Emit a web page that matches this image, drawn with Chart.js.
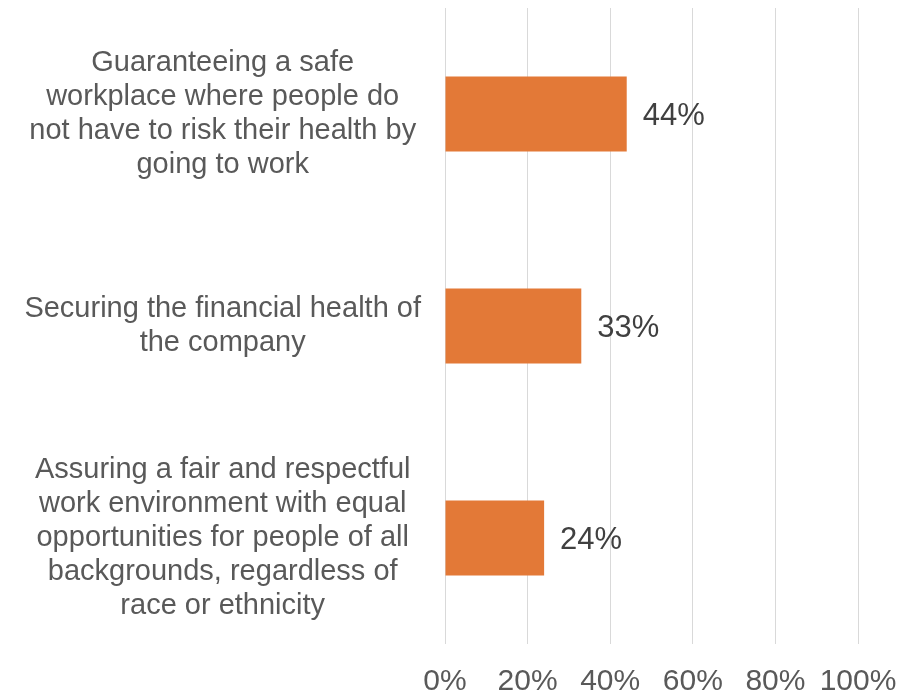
<!DOCTYPE html>
<html>
<head>
<meta charset="utf-8">
<script src="https://cdn.jsdelivr.net/npm/chart.js@4"></script>
<style>
  html, body { margin: 0; padding: 0; background: #fff; }
  #wrap { width: 914px; height: 697px; position: relative; }
</style>
</head>
<body>
<div id="wrap"><canvas id="priorities"></canvas></div>
<script>
// categories, one array of lines per wrapped label
const categories = [
    ['Guaranteeing a safe', 'workplace where people do', 'not have to risk their health by', 'going to work'],
    ['Securing the financial health of', 'the company'],
    ['Assuring a fair and respectful', 'work environment with equal', 'opportunities for people of all', 'backgrounds, regardless of', 'race or ethnicity']
];
const shares = [44, 33, 24];
const xTicks = [0, 20, 40, 60, 80, 100];

const FONT = '"Liberation Sans", Arial, sans-serif';

// value labels drawn just right of each bar
const valueLabels = {
    id: 'valueLabels',
    afterDatasetsDraw(chart) {
        const { ctx } = chart;
        const meta = chart.getDatasetMeta(0);
        ctx.save();
        ctx.font = '31px ' + FONT;
        ctx.fillStyle = '#404040';
        ctx.textAlign = 'left';
        ctx.textBaseline = 'middle';
        meta.data.forEach((bar, i) => {
            ctx.fillText(shares[i] + '%', bar.x + 16, bar.y + 2);
        });
        ctx.restore();
    }
};

new Chart(document.getElementById('priorities'), {
    type: 'bar',
    data: {
        labels: categories,
        datasets: [{
            data: shares,
            backgroundColor: '#E37937',
            borderWidth: 0,
            categoryPercentage: 1,
            barPercentage: 0.354
        }]
    },
    options: {
        indexAxis: 'y',
        responsive: true,
        maintainAspectRatio: false,
        animation: false,
        layout: { padding: { top: 8, right: 56, bottom: 0, left: 0 } },
        plugins: {
            legend: { display: false },
            tooltip: { enabled: false }
        },
        scales: {
            x: {
                min: 0,
                max: 100,
                afterBuildTicks: scale => { scale.ticks = xTicks.map(v => ({ value: v })); },
                afterFit: scale => {
                    scale.height = 53;
                    scale.paddingLeft = 0;
                    scale.paddingRight = 0;
                },
                grid: { color: '#D9D9D9', lineWidth: 1, drawTicks: false },
                border: { display: false },
                ticks: {
                    padding: 20,
                    color: '#595959',
                    font: { family: FONT, size: 30 },
                    maxRotation: 0,
                    callback: v => v + '%'
                }
            },
            y: {
                afterFit: scale => {
                    scale.width = 445;
                    // long wrapped labels may overhang the plot edges
                    scale.paddingTop = 0;
                    scale.paddingBottom = 0;
                },
                grid: { display: false, drawTicks: false },
                border: { display: false },
                ticks: {
                    crossAlign: 'center',
                    padding: 24,
                    color: '#595959',
                    font: { family: FONT, size: 29, lineHeight: 1.17 }
                }
            }
        }
    },
    plugins: [valueLabels]
});
</script>
</body>
</html>
